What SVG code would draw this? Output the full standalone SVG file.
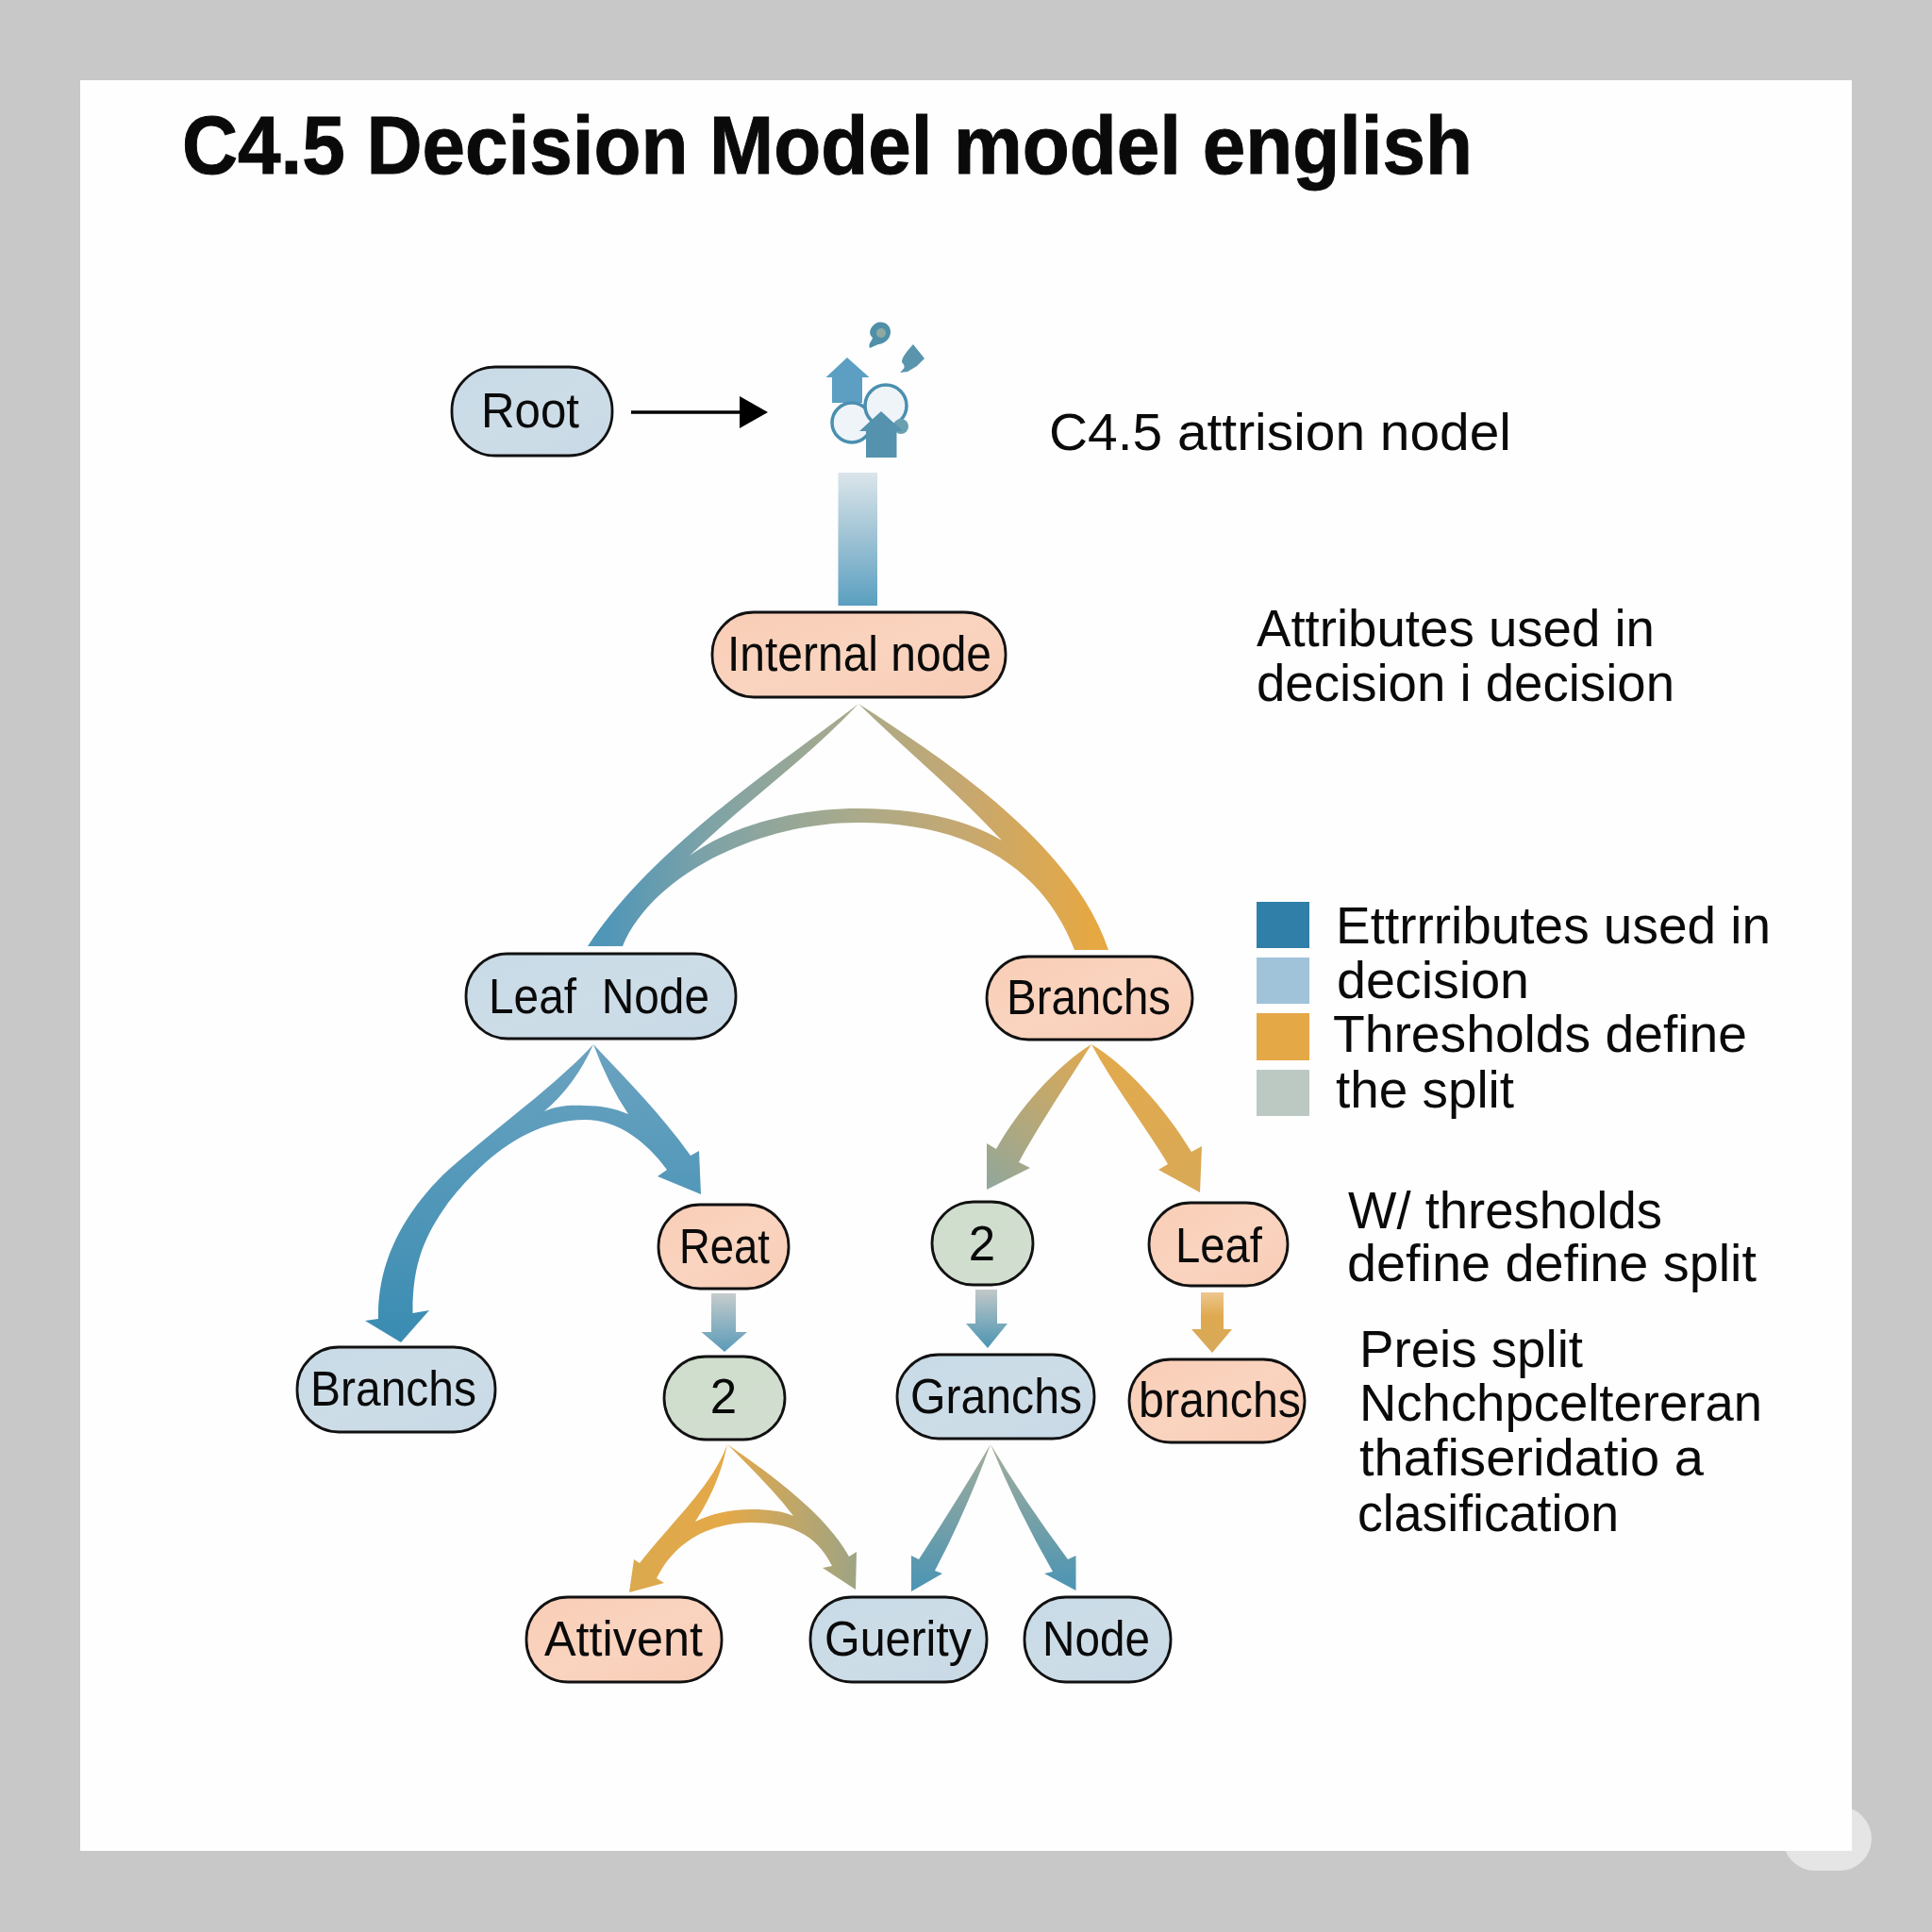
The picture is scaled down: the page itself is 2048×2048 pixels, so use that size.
<svg xmlns="http://www.w3.org/2000/svg" width="2048" height="2048" viewBox="0 0 2048 2048">
<style>
text{font-family:"Liberation Sans",Arial,sans-serif;fill:#0a0a0a}
.n{font-size:51px;text-anchor:middle}
.t{font-size:56px}
.title{font-size:87px;font-weight:bold;stroke:#0a0a0a;stroke-width:1}
.pill{stroke:#111;stroke-width:2.8}
.blue{fill:url(#gBlue)}
.peach{fill:url(#gPeach)}
.green{fill:url(#gGreen)}
</style>
<defs>
<linearGradient id="gBlue" x1="0" y1="0" x2="1" y2="1"><stop offset="0" stop-color="#c6dae5"/><stop offset="0.5" stop-color="#cddde8"/><stop offset="1" stop-color="#c7d9e5"/></linearGradient>
<linearGradient id="gPeach" x1="0" y1="0" x2="1" y2="1"><stop offset="0" stop-color="#f9cdb6"/><stop offset="0.5" stop-color="#fad4bf"/><stop offset="1" stop-color="#f8ccb6"/></linearGradient>
<linearGradient id="gGreen" x1="0" y1="0" x2="1" y2="1"><stop offset="0" stop-color="#cfddcd"/><stop offset="1" stop-color="#d2dfd0"/></linearGradient>
<linearGradient id="bar" x1="0" y1="501" x2="0" y2="642" gradientUnits="userSpaceOnUse"><stop offset="0" stop-color="#dbe5ea"/><stop offset="0.45" stop-color="#a3c5d6"/><stop offset="1" stop-color="#5a9fc0"/></linearGradient>
<linearGradient id="fork1" x1="640" y1="0" x2="1160" y2="0" gradientUnits="userSpaceOnUse"><stop offset="0" stop-color="#4f96b8"/><stop offset="0.22" stop-color="#7fa3a6"/><stop offset="0.5" stop-color="#a8aa8c"/><stop offset="0.72" stop-color="#c4a872"/><stop offset="1" stop-color="#e6a843"/></linearGradient>
<linearGradient id="fork2" x1="0" y1="1107" x2="0" y2="1420" gradientUnits="userSpaceOnUse"><stop offset="0" stop-color="#6ba3c0"/><stop offset="1" stop-color="#3a8cb2"/></linearGradient>
<linearGradient id="fork3l" x1="1157" y1="1107" x2="1046" y2="1261" gradientUnits="userSpaceOnUse"><stop offset="0" stop-color="#e0a951"/><stop offset="1" stop-color="#90a79c"/></linearGradient>
<linearGradient id="fork3r" x1="1157" y1="1107" x2="1272" y2="1264" gradientUnits="userSpaceOnUse"><stop offset="0" stop-color="#e3aa4c"/><stop offset="1" stop-color="#d9a956"/></linearGradient>
<linearGradient id="fork4" x1="670" y1="0" x2="908" y2="0" gradientUnits="userSpaceOnUse"><stop offset="0" stop-color="#dba94e"/><stop offset="0.4" stop-color="#e5a948"/><stop offset="1" stop-color="#9ea484"/></linearGradient>
<linearGradient id="fork5" x1="0" y1="1531" x2="0" y2="1687" gradientUnits="userSpaceOnUse"><stop offset="0" stop-color="#a4ad9a"/><stop offset="1" stop-color="#4a94b4"/></linearGradient>
<linearGradient id="dn1" x1="0" y1="1371" x2="0" y2="1433" gradientUnits="userSpaceOnUse"><stop offset="0" stop-color="#c6cccc"/><stop offset="1" stop-color="#5a9ab8"/></linearGradient>
<linearGradient id="dn2" x1="0" y1="1367" x2="0" y2="1429" gradientUnits="userSpaceOnUse"><stop offset="0" stop-color="#c2c8c8"/><stop offset="1" stop-color="#4a94b2"/></linearGradient>
<linearGradient id="dn3" x1="0" y1="1370" x2="0" y2="1434" gradientUnits="userSpaceOnUse"><stop offset="0" stop-color="#edc68f"/><stop offset="0.4" stop-color="#dfa94f"/><stop offset="1" stop-color="#d6a95c"/></linearGradient>
</defs>

<rect width="2048" height="2048" fill="#c8c8c8"/>
<rect x="1890" y="1915" width="94" height="68" rx="34" fill="#e5e5e5"/>
<rect x="85" y="85" width="1878" height="1877" fill="#fefefe"/>

<text class="title" x="193" y="184" textLength="1368" lengthAdjust="spacingAndGlyphs">C4.5 Decision Model model english</text>

<g id="connectors">
<path d="M814 437L784 420V454Z" fill="#000"/>
<path d="M669 437H786" stroke="#000" stroke-width="3.5" fill="none"/>
<rect x="888.5" y="501" width="41.5" height="141" fill="url(#bar)"/>
<path fill="url(#fork1)" fill-rule="evenodd" d="M910 746C820 815 690 900 623 1003H660C690 930 800 872 910 872C1040 872 1110 930 1139 1007H1175C1140 900 1010 810 910 746ZM910 746C855 805 790 850 731 907C780 872 850 857 910 857C970 857 1025 868 1062 891C1015 840 960 795 910 746Z"/>
<path fill="url(#fork2)" fill-rule="evenodd" d="M629 1107C590 1150 520 1200 470 1245C425 1290 400 1340 401 1398L387 1400L425 1423L455 1389L437.500 1392C437 1340 450 1310 475 1275C510 1230 560 1187 620 1187C655 1187 685 1210 707 1240L697 1247L743 1266L741 1220L732 1225C700 1180 660 1140 629 1107ZM629 1107Q610 1150 577 1178C590 1172 605 1171 620 1172C637 1172 652 1175 666 1181Q645 1150 629 1107Z"/>
<path fill="url(#fork3l)" d="M1157 1107C1120 1130 1080 1175 1056 1218L1046 1212V1261L1092 1238L1080 1232C1100 1195 1130 1150 1157 1107Z"/>
<path fill="url(#fork3r)" d="M1157 1107C1195 1130 1235 1175 1263 1221L1274 1215L1272 1264L1228 1240L1238 1234C1215 1195 1180 1150 1157 1107Z"/>
<path fill="url(#fork4)" fill-rule="evenodd" d="M771 1531C755 1575 715 1610 678 1657L672 1653L667 1688L704 1678L696 1673C715 1635 750 1614 797 1614C835 1614 865 1625 882 1660L872 1662L907 1685L908 1645L900 1650C875 1605 820 1565 771 1531ZM771 1531C765 1560 755 1585 737 1613C755 1604 775 1600 797 1600C815 1600 830 1602 841 1607C825 1585 795 1555 771 1531Z"/>
<path fill="url(#fork5)" d="M1050 1531Q1015 1590 974 1653L966 1649V1687L999 1668L991 1665Q1025 1600 1050 1531ZM1050 1531Q1078 1600 1116 1666L1107 1668L1140.500 1686V1649L1132 1653Q1085 1590 1050 1531Z"/>
<path fill="url(#dn1)" d="M754 1371H780V1412H792L768 1433L743.500 1412H754Z"/>
<path fill="url(#dn2)" d="M1034 1367H1057V1403H1068L1047 1429L1024 1403H1034Z"/>
<path fill="url(#dn3)" d="M1273 1370H1297V1409H1306L1285 1434L1263 1409H1273Z"/>
</g>

<g id="icon">
<path d="M898 379L921.500 400H914V427H882V400H875.500Z" fill="#5c9fc3"/>
<circle cx="903" cy="448" r="21" fill="#eef4f7" stroke="#4a8fb0" stroke-width="3.500"/>
<circle cx="939" cy="430" r="22" fill="#eef4f7" stroke="#4a8fb0" stroke-width="3.500"/>
<circle cx="955" cy="452" r="8" fill="#6a9fb2"/>
<path d="M934 436L957 457H950.500V485H918V457H911Z" fill="#5492ad"/>
<path d="M928 343C936 339 944 344 944 352C944 360 936 365 931 365L922 369C920 364 924 362 925 358C920 354 922 347 928 343Z" fill="#4f8fa8"/>
<circle cx="934" cy="353" r="5" fill="#8fa9a0"/>
<path d="M968 365L980 380L972 388L962 394L954 395C958 391 961 389 956 384C956 378 962 372 968 365Z" fill="#5a94ad"/>
</g>

<g id="node-root"><rect class="pill blue" x="479" y="389" width="170" height="94" rx="46"/><text class="n" x="562" y="453" textLength="104" lengthAdjust="spacingAndGlyphs">Root</text></g>
<g id="node-internal"><rect class="pill peach" x="755" y="649" width="311" height="90" rx="44"/><text class="n" x="911" y="711" textLength="280" lengthAdjust="spacingAndGlyphs">Internal node</text></g>
<g id="node-leafnode"><rect class="pill blue" x="494" y="1011" width="286" height="90" rx="44"/><text class="n" x="635" y="1074" textLength="234" lengthAdjust="spacingAndGlyphs" xml:space="preserve">Leaf  Node</text></g>
<g id="node-branchs-r"><rect class="pill peach" x="1046" y="1014" width="218" height="88" rx="44"/><text class="n" x="1154" y="1075" textLength="174" lengthAdjust="spacingAndGlyphs">Branchs</text></g>
<g id="node-branchs-l"><rect class="pill blue" x="315" y="1428" width="210" height="90" rx="44"/><text class="n" x="417" y="1490" textLength="176" lengthAdjust="spacingAndGlyphs">Branchs</text></g>
<g id="node-reat"><rect class="pill peach" x="698" y="1277" width="138" height="89" rx="44"/><text class="n" x="768" y="1339" textLength="96" lengthAdjust="spacingAndGlyphs">Reat</text></g>
<g id="node-2a"><rect class="pill green" x="704" y="1438" width="128" height="88" rx="44"/><text class="n" x="767" y="1498">2</text></g>
<g id="node-2b"><rect class="pill green" x="988" y="1274" width="107" height="88" rx="44"/><text class="n" x="1041" y="1336">2</text></g>
<g id="node-leaf"><rect class="pill peach" x="1218" y="1275" width="147" height="88" rx="44"/><text class="n" x="1292" y="1338" textLength="92" lengthAdjust="spacingAndGlyphs">Leaf</text></g>
<g id="node-granchs"><rect class="pill blue" x="951" y="1436" width="209" height="89" rx="44"/><text class="n" x="1056" y="1498" textLength="182" lengthAdjust="spacingAndGlyphs">Granchs</text></g>
<g id="node-branchs-b"><rect class="pill peach" x="1197" y="1441" width="186" height="88" rx="44"/><text class="n" x="1293" y="1502" textLength="172" lengthAdjust="spacingAndGlyphs">branchs</text></g>
<g id="node-attivent"><rect class="pill peach" x="558" y="1693" width="207" height="90" rx="44"/><text class="n" x="661" y="1755" textLength="168" lengthAdjust="spacingAndGlyphs">Attivent</text></g>
<g id="node-guerity"><rect class="pill blue" x="859" y="1693" width="187" height="90" rx="44"/><text class="n" x="952" y="1755" textLength="156" lengthAdjust="spacingAndGlyphs">Guerity</text></g>
<g id="node-node"><rect class="pill blue" x="1086" y="1693" width="155" height="90" rx="44"/><text class="n" x="1162" y="1755" textLength="114" lengthAdjust="spacingAndGlyphs">Node</text></g>

<g id="annotations">
<text class="t" x="1112" y="477" textLength="490" lengthAdjust="spacingAndGlyphs">C4.5 attrision nodel</text>
<text class="t" x="1332" y="685" textLength="422" lengthAdjust="spacingAndGlyphs">Attributes used in</text>
<text class="t" x="1332" y="743" textLength="443" lengthAdjust="spacingAndGlyphs">decision i decision</text>
<text class="t" x="1416" y="1000" textLength="461" lengthAdjust="spacingAndGlyphs">Ettrrributes used in</text>
<text class="t" x="1417" y="1058" textLength="204" lengthAdjust="spacingAndGlyphs">decision</text>
<text class="t" x="1413" y="1115" textLength="439" lengthAdjust="spacingAndGlyphs">Thresholds define</text>
<text class="t" x="1416" y="1174" textLength="189" lengthAdjust="spacingAndGlyphs">the split</text>
<text class="t" x="1429" y="1302" textLength="333" lengthAdjust="spacingAndGlyphs">W/ thresholds</text>
<text class="t" x="1428" y="1358" textLength="434" lengthAdjust="spacingAndGlyphs">define define split</text>
<text class="t" x="1441" y="1449" textLength="237" lengthAdjust="spacingAndGlyphs">Preis split</text>
<text class="t" x="1441" y="1506" textLength="427" lengthAdjust="spacingAndGlyphs">Nchchpceltereran</text>
<text class="t" x="1441" y="1564" textLength="365" lengthAdjust="spacingAndGlyphs">thafiseridatio a</text>
<text class="t" x="1439" y="1623" textLength="277" lengthAdjust="spacingAndGlyphs">clasification</text>
</g>

<g id="legend">
<rect x="1332" y="956" width="56" height="49" fill="#2f7fa8"/>
<rect x="1332" y="1015" width="56" height="49" fill="#a0c3da"/>
<rect x="1332" y="1074" width="56" height="50" fill="#e5a846"/>
<rect x="1332" y="1134" width="56" height="49" fill="#bcc9c2"/>
</g>
</svg>
